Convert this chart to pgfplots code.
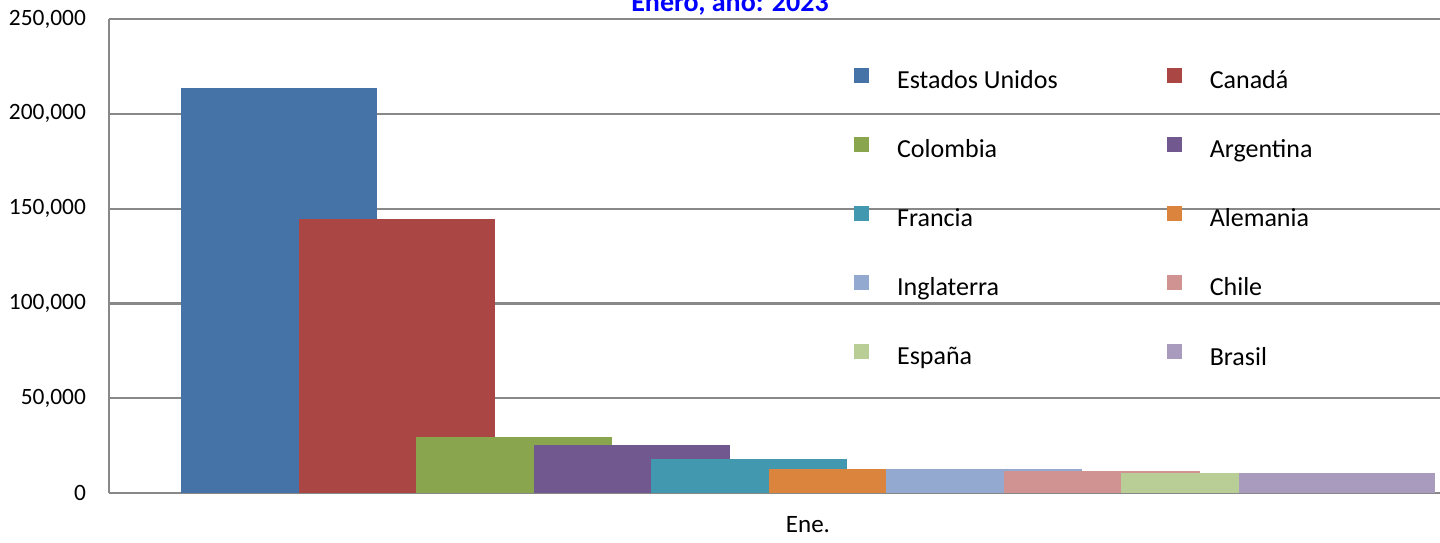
\documentclass[border=0pt]{standalone}
\usepackage{fontspec}
\setmainfont{Carlito}
\usepackage{pgfplots}
\pgfplotsset{compat=1.18}

\definecolor{cUSA}{HTML}{4572A7}
\definecolor{cCAN}{HTML}{AA4643}
\definecolor{cCOL}{HTML}{89A54E}
\definecolor{cARG}{HTML}{71588F}
\definecolor{cFRA}{HTML}{4198AF}
\definecolor{cALE}{HTML}{DB843D}
\definecolor{cING}{HTML}{93A9CF}
\definecolor{cCHI}{HTML}{D19392}
\definecolor{cESP}{HTML}{B9CD96}
\definecolor{cBRA}{HTML}{A99BBD}
\definecolor{gridgray}{HTML}{888888}

\begin{document}
\begin{tikzpicture}
% the reference is cropped at the top and the right
\path[use as bounding box, clip] (-54.5pt,-24.5pt) rectangle (665.5pt,246.5pt);
\begin{axis}[
    at={(0,0)}, anchor=south west,
    scale only axis, width=699pt, height=237pt,
    ybar, bar width=97.9pt,
    xmin=-0.5, xmax=0.5, ymin=0, ymax=250000,
    enlargelimits=false,
    axis lines*=left,
    axis line style={-, gridgray, line width=1.2pt},
    xtick={0}, xticklabels={Ene.},
    ytick={0,50000,100000,150000,200000,250000},
    major tick length=0pt,
    ymajorgrids, grid style={gridgray, line width=1.1pt},
    scaled y ticks=false,
    /pgf/number format/.cd, fixed, 1000 sep={,}, assume math mode=true,
    /pgfplots/.cd,
    yticklabel style={font=\fontsize{11.7}{13}\selectfont, xshift=-8pt},
    xticklabel style={font=\fontsize{12.5}{14}\selectfont, yshift=-8pt},
    legend columns=2,
    legend cell align=left,
    legend image code/.code={\fill[#1, draw=none] (0pt,-1pt) rectangle (7.5pt,6.5pt);
        \path[draw=none, fill=none] (0pt,-1pt) rectangle (19.5pt,10.5pt);},
    legend style={at={(0.5284,0.922)}, anchor=north west, draw=none, fill=none,
        font=\fontsize{13}{15}\selectfont, row sep=16.75pt,
        /tikz/every even column/.append style={column sep=52.5pt}},
]
\addplot[fill=cUSA, draw=none, bar shift=-264.4pt] coordinates {(0,213800)};
\addlegendentry{Estados Unidos}
\addplot[fill=cCAN, draw=none, bar shift=-205.6pt] coordinates {(0,144400)};
\addlegendentry{Canadá}
\addplot[fill=cCOL, draw=none, bar shift=-146.9pt] coordinates {(0,29300)};
\addlegendentry{Colombia}
\addplot[fill=cARG, draw=none, bar shift=-88.1pt] coordinates {(0,25100)};
\addlegendentry{Argentina}
\addplot[fill=cFRA, draw=none, bar shift=-29.4pt] coordinates {(0,17800)};
\addlegendentry{Francia}
\addplot[fill=cALE, draw=none, bar shift=29.4pt] coordinates {(0,12800)};
\addlegendentry{Alemania}
\addplot[fill=cING, draw=none, bar shift=88.1pt] coordinates {(0,12600)};
\addlegendentry{Inglaterra}
\addplot[fill=cCHI, draw=none, bar shift=146.9pt] coordinates {(0,11500)};
\addlegendentry{Chile}
\addplot[fill=cESP, draw=none, bar shift=205.6pt] coordinates {(0,10500)};
\addlegendentry{España}
\addplot[fill=cBRA, draw=none, bar shift=264.4pt] coordinates {(0,10500)};
\addlegendentry{Brasil}
\end{axis}
\node[anchor=base, text=blue, font=\bfseries\fontsize{14}{16}\selectfont]
    at (310.5pt,240.5pt) {Enero, año: 2023};
\end{tikzpicture}
\end{document}
